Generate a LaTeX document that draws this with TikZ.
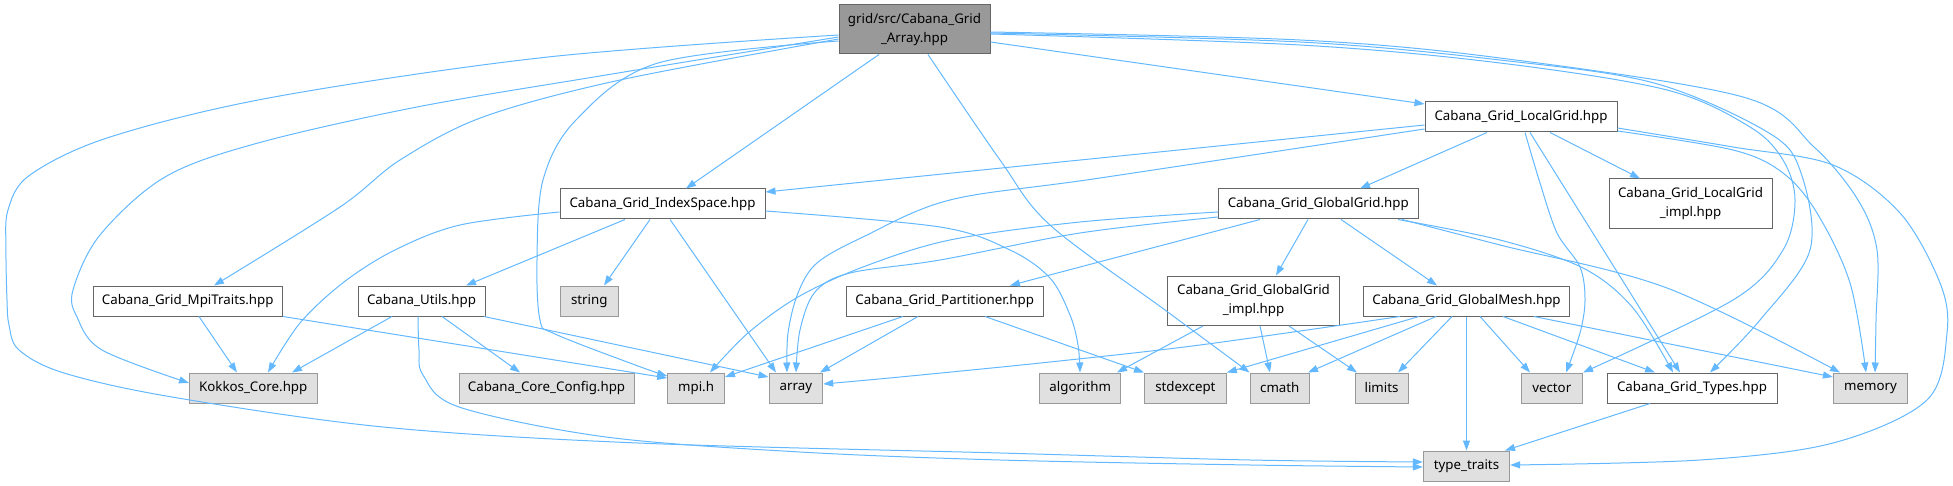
\documentclass[tikz,border=0pt]{standalone}
\usepackage{fontspec}
\setmainfont{Noto Sans}
\usetikzlibrary{arrows.meta}
\definecolor{edgec}{HTML}{63B8FF}
\definecolor{bord}{HTML}{666666}
\definecolor{gbord}{HTML}{999999}
\definecolor{gfill}{HTML}{E0E0E0}
\definecolor{mfill}{HTML}{999999}
\begin{document}
\begin{tikzpicture}[x=1pt,y=-1pt,
  basebox/.style={rectangle, inner sep=0pt, line width=1pt, minimum height=30pt,
    align=center, font=\fontsize{13.3}{18.5}\selectfont, text=black},
  wbox/.style={basebox, draw=bord, fill=white},
  gbox/.style={basebox, draw=gbord, fill=gfill},
  mbox/.style={basebox, draw=bord, fill=mfill},
  dep/.style={draw=edgec, line width=1pt, -{Triangle[length=10pt,width=7pt]}, fill=none},
  curv/.style={smooth, tension=0.55}]
\useasboundingbox (0,0) rectangle (1953,486);

% nodes
\node[mbox, minimum width=151pt, minimum height=49pt] (main) at (914.5,29.5) {grid/src/Cabana\_Grid\\\_Array.hpp};
\node[wbox, minimum width=192pt] (LG) at (1521,117) {Cabana\_Grid\_LocalGrid.hpp};
\node[wbox, minimum width=205pt] (IS) at (662.5,204) {Cabana\_Grid\_IndexSpace.hpp};
\node[wbox, minimum width=199.5pt] (GG) at (1318.25,204) {Cabana\_Grid\_GlobalGrid.hpp};
\node[wbox, minimum width=163pt, minimum height=49.5pt] (LGi) at (1690.5,203.7) {Cabana\_Grid\_LocalGrid\\\_impl.hpp};
\node[wbox, minimum width=189.5pt] (MT) at (187.75,301) {Cabana\_Grid\_MpiTraits.hpp};
\node[wbox, minimum width=127pt] (CU) at (421.5,301) {Cabana\_Utils.hpp};
\node[gbox, minimum width=57.5pt] (str) at (589.25,301) {string};
\node[wbox, minimum width=197.4pt] (PT) at (944.7,301) {Cabana\_Grid\_Partitioner.hpp};
\node[wbox, minimum width=172pt, minimum height=49.5pt] (GGi) at (1253.5,300.75) {Cabana\_Grid\_GlobalGrid\\\_impl.hpp};
\node[wbox, minimum width=206.6pt] (GM) at (1466.5,301) {Cabana\_Grid\_GlobalMesh.hpp};
\node[gbox, minimum width=127.5pt] (KC) at (253.25,388) {Kokkos\_Core.hpp};
\node[gbox, minimum width=175pt] (CCC) at (546.5,388) {Cabana\_Core\_Config.hpp};
\node[gbox, minimum width=56.8pt] (mpi) at (696.1,388) {mpi.h};
\node[gbox, minimum width=53.7pt] (arr) at (795.85,388) {array};
\node[gbox, minimum width=81.2pt] (alg) at (1080.2,388) {algorithm};
\node[gbox, minimum width=81.8pt] (stdx) at (1185.4,388) {stdexcept};
\node[gbox, minimum width=59.5pt] (cm) at (1279.75,388) {cmath};
\node[gbox, minimum width=53pt] (lim) at (1381.5,388) {limits};
\node[gbox, minimum width=61.5pt] (vec) at (1551.75,388) {vector};
\node[wbox, minimum width=170pt] (Ty) at (1692,388) {Cabana\_Grid\_Types.hpp};
\node[gbox, minimum width=74.2pt] (mem) at (1870.5,388) {memory};
\node[gbox, minimum width=86.3pt] (tt) at (1466.5,466) {type\_traits};

% main
\draw[dep] (main.south -| 879,0) -- (IS.north -| 686,0);
\draw[dep] (main.east |- 0,42) -- (LG.west |- 0,104);
\draw[dep] plot[curv] coordinates {(main.west |- 0,39) (620,80) (483,117) (400,160) (340,207) (MT.north -| 214,0)};
\draw[dep] plot[curv] coordinates {(main.west |- 0,37) (600,76) (417,107) (258,143) (165,177) (100,235) (73,290) (77,317) (102,350) (KC.west |- 0,383)};
\draw[dep] plot[curv] coordinates {(main.west |- 0,35) (548,57) (274,97) (110,137) (30,175) (8,210) (6,250) (7,300) (9,325) (19,350) (64,373) (172,397) (383,427) (638,443) (1000,453) (1250,460) (tt.west |- 0,462)};
\draw[dep] plot[curv] coordinates {(main.west |- 0,41) (658,63) (576,120) (543,180) (537,260) (540,320) (555,334) (638,366) (mpi.west |- 0,376)};
\draw[dep] plot[curv] coordinates {(main.south -| 928,0) (1000,160) (1050,225) (1165,310) (cm.north west)};
\draw[dep] plot[curv] coordinates {(main.east |- 0,34) (1300,45) (1500,63) (1667,90) (1750,127) (1783,160) (1795,200) (1783,250) (1733,300) (vec.north east)};
\draw[dep] plot[curv] coordinates {(main.east |- 0,33) (1300,42) (1500,60) (1654,83) (1769,133) (1801,173) (1810,250) (1760,320) (Ty.north -| 1710,0)};
\draw[dep] plot[curv] coordinates {(main.east |- 0,32) (1300,40) (1500,58) (1743,97) (1814,147) (1858,200) (1877,250) (1876,320) (mem.north -| 1875,0)};

% LocalGrid
\draw[dep] (LG.west |- 0,125) -- (IS.east |- 0,192);
\draw[dep] plot[curv] coordinates {(LG.west |- 0,129) (1100,178) (950,200) (863,237) (817,263) (798,293) (788,333) (arr.north -| 787,0)};
\draw[dep] (LG.south -| 1487,0) -- (GG.north -| 1360,0);
\draw[dep] (LG.south -| 1550,0) -- (LGi.north -| 1640,0);
\draw[dep] plot[curv] coordinates {(LG.south -| 1525,0) (1540,183) (1557,233) (1580,267) (1585,300) (1580,333) (vec.north -| 1566,0)};
\draw[dep] (LG.south -| 1530,0) -- (Ty.north -| 1680,0);
\draw[dep] plot[curv] coordinates {(LG.east |- 0,131) (1733,150) (1783,173) (1817,213) (1850,283) (mem.north -| 1866,0)};
\draw[dep] plot[curv] coordinates {(LG.east |- 0,128) (1733,147) (1833,165) (1900,213) (1940,283) (1947,333) (1927,400) (1833,443) (1700,460) (tt.east |- 0,465)};

% IndexSpace
\draw[dep] plot[curv] coordinates {(IS.west |- 0,212) (460,225) (395,250) (344,282) (300,323) (KC.north -| 268,0)};
\draw[dep] (IS.south -| 625,0) -- (CU.north -| 466,0);
\draw[dep] (IS.south -| 650,0) -- (str.north -| 604,0);
\draw[dep] (IS.south -| 670,0) -- (arr.north -| 776,0);
\draw[dep] plot[curv] coordinates {(IS.east |- 0,211) (940,227) (1010,250) (1050,278) (1070,315) (1078,345) (alg.north -| 1080,0)};

% GlobalGrid
\draw[dep] plot[curv] coordinates {(GG.west |- 0,212) (1080,222) (950,240) (863,267) (798,297) (748,333) (mpi.north -| 710,0)};
\draw[dep] plot[curv] coordinates {(GG.west |- 0,217) (1080,233) (940,260) (850,273) (815,292) (800,330) (arr.north -| 796,0)};
\draw[dep] (GG.south -| 1260,0) -- (PT.north -| 1010,0);
\draw[dep] (GG.south -| 1308,0) -- (GGi.north -| 1276,0);
\draw[dep] (GG.south -| 1341,0) -- (GM.north -| 1437,0);
\draw[dep] plot[curv] coordinates {(GG.south -| 1398,0) (1500,240) (1583,268) (1633,308) (Ty.north -| 1673,0)};
\draw[dep] plot[curv] coordinates {(GG.south -| 1402,0) (1500,245) (1667,288) (mem.north -| 1840,0)};

% MpiTraits
\draw[dep] (MT.south -| 199,0) -- (KC.north -| 237,0);
\draw[dep] (MT.south east) -- (mpi.west |- 0,378);

% Utils
\draw[dep] (CU.south -| 392,0) -- (KC.north -| 292,0);
\draw[dep] (CU.south -| 442,0) -- (CCC.north -| 520,0);
\draw[dep] (CU.south -| 484,0) -- (arr.west |- 0,377);
\draw[dep] plot[curv] coordinates {(CU.south -| 418,0) (419,350) (423,375) (459,407) (606,437) (800,452) (1000,460) (1250,465) (tt.west |- 0,467)};

% Partitioner
\draw[dep] (PT.south -| 903,0) -- (mpi.east |- 0,377);
\draw[dep] (PT.south -| 918,0) -- (arr.north -| 820,0);
\draw[dep] (PT.south -| 985,0) -- (stdx.north west);

% GlobalGrid_impl
\draw[dep] (GGi.south -| 1203,0) -- (alg.north -| 1117,0);
\draw[dep] (GGi.south -| 1260,0) -- (cm.north -| 1270,0);
\draw[dep] (GGi.south -| 1289,0) -- (lim.north -| 1357,0);

% GlobalMesh
\draw[dep] plot[curv] coordinates {(GM.south -| 1400,0) (1200,345) (1050,362) (900,377) (arr.east |- 0,384)};
\draw[dep] (GM.south -| 1419,0) -- (stdx.north east);
\draw[dep] (GM.south -| 1436,0) -- (cm.north -| 1308,0);
\draw[dep] (GM.south -| 1452,0) -- (lim.north -| 1398,0);
\draw[dep] (GM.south -| 1466.5,0) -- (tt.north -| 1466.5,0);
\draw[dep] (GM.south -| 1480,0) -- (vec.north -| 1530,0);
\draw[dep] (GM.south -| 1503,0) -- (Ty.north -| 1655,0);
\draw[dep] (GM.south -| 1534,0) -- (mem.west |- 0,377);

% Types
\draw[dep] (Ty.south -| 1650,0) -- (tt.north -| 1505,0);
\end{tikzpicture}
\end{document}
